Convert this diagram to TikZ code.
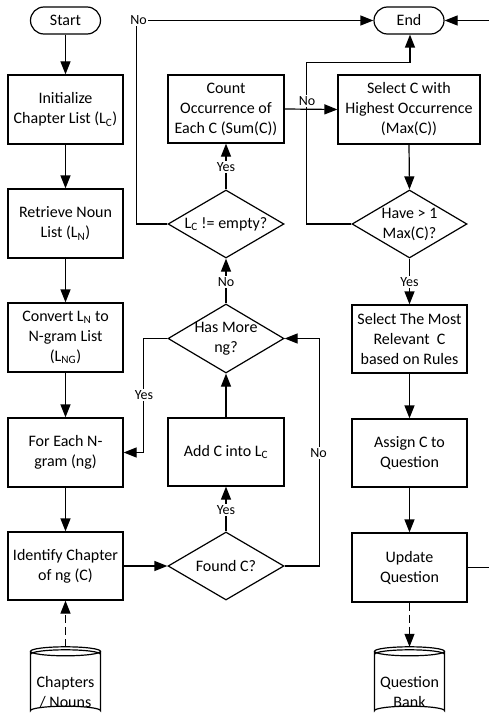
\documentclass[tikz,border=0pt]{standalone}
\usepackage{fontspec}
\setmainfont{Carlito}
\usetikzlibrary{arrows.meta,shapes.geometric,calc}

% database symbol: top ellipse with a second rim line, straight sides, rounded base
\newcommand\dbsymbol[1]{%
  \draw[line width=1.2pt] ($(#1.north)+(0,4.5)$) ellipse[x radius=35pt, y radius=4.5pt];
  \draw[line width=1.2pt] ($(#1.north)+(-35,7.5)$) arc[start angle=180, end angle=0, x radius=35pt, y radius=4.5pt];
  \draw[line width=1.2pt] ($(#1.north)+(-35,4.5)$) -- ($(#1.south)+(-35,-4.5)$)
    arc[start angle=180, end angle=0, x radius=35pt, y radius=4.5pt] -- ($(#1.north)+(35,4.5)$);
}

\begin{document}
\begin{tikzpicture}[x=1pt,y=-1pt,
  every node/.style={font=\fontsize{16}{20}\selectfont, align=center, inner sep=0pt},
  line/.style={line width=1.2pt, draw=black},
  flow/.style={line, -{Triangle[length=13pt,width=10pt]}},
  dflow/.style={flow, dash pattern=on 8pt off 4pt},
  box/.style={draw, line width=1.2pt, minimum width=115pt, minimum height=69pt},
  term/.style={draw, line width=1.2pt, rounded corners=13.5pt, minimum width=70pt, minimum height=27pt},
  dia/.style={draw, line width=1.2pt, diamond, minimum width=116pt, minimum height=69pt},
  store/.style={minimum width=70pt, minimum height=68pt},
  tag/.style={font=\fontsize{14}{16}\selectfont, fill=white, inner sep=1pt},
]
\useasboundingbox (0,0) rectangle (489,717);
\clip (0,0) rectangle (489,717);

% ---- left column ----
\node[term] (start) at (65.5,20.5) {Start};
\node[box] (init) at (65.5,109.5) {Initialize\\Chapter List (L\textsubscript{C})};
\node[box] (noun) at (65.5,223.5) {Retrieve Noun\\List (L\textsubscript{N})};
\node[box] (conv) at (65.5,337.5) {Convert L\textsubscript{N} to\\N-gram List\\(L\textsubscript{NG})};
\node[box] (each) at (65.5,452.5) {For Each N-\\gram (ng)};
\node[box, minimum height=68pt] (ident) at (65.5,566) {Identify Chapter\\of ng (C)};
\node[store] (chap) at (65.5,681) {};
\dbsymbol{chap}
\node (chapt) at (65.5,692) {Chapters\\/ Nouns};

% ---- middle column ----
\node[box, minimum width=116pt, minimum height=68pt] (count) at (226,109) {Count\\Occurrence of\\Each C (Sum(C))};
\node[dia, minimum height=68pt] (empty) at (226,224) {};
\node (emptyt) at (226,224) {L\textsubscript{C} != empty?};
\node[dia] (more) at (226,338.5) {};
\node (moret) at (226,338.5) {Has More\\ng?};
\node[box, minimum width=116pt, minimum height=68pt] (add) at (226,452) {Add C into L\textsubscript{C}};
\node[dia, minimum height=68pt] (found) at (226,566) {};
\node (foundt) at (226,566) {Found C?};

% ---- right column ----
\node[term] (end) at (409,20.5) {End};
\node[box, minimum width=142pt] (sel) at (409,109.5) {Select C with\\Highest Occurrence\\(Max(C))};
\node[dia, minimum width=115pt, minimum height=68pt] (multi) at (409.5,224) {};
\node (multit) at (409.5,224) {Have {>} 1\\Max(C)?};
\node[box, minimum height=68pt] (rel) at (409.5,339) {Select The Most\\Relevant\ \ C\\based on Rules};
\node[box, minimum height=68pt] (assign) at (409.5,453) {Assign C to\\Question};
\node[box] (upd) at (409.5,567.5) {Update\\Question};
\node[store] (bank) at (409.5,681) {};
\dbsymbol{bank}
\node (bankt) at (409.5,692) {Question\\Bank};

% ---- connectors: left column ----
\draw[flow] (start) -- (init);
\draw[flow] (init) -- (noun);
\draw[flow] (noun) -- (conv);
\draw[flow] (conv) -- (each);
\draw[flow] (each) -- (ident);
\draw[dflow] (chap.north) -- (ident.south);
\draw[flow] (ident.east) -- (found.west);

% ---- connectors: middle column ----
\draw[flow] (found.north) -- (add.south);
\node[tag] (fyes) at (226,510) {Yes};
\draw[flow] (found.east) -- ++(35,0) |- (more.east);
\node[tag] (fno) at (318.5,453) {No};
\draw[flow] (add.north) -- (more.south);
\draw[flow] (more.west) -- ++(-24,0) |- (each.east);
\node[tag] (myes) at (144,395) {Yes};
\draw[flow] (more.north) -- (empty.south);
\node[tag] (mno) at (226,282) {No};
\draw[flow] (empty.north) -- (count.south);
\node[tag] (eyes) at (226,167) {Yes};
\draw[flow] (empty.west) -- ++(-31,0) |- (end.west);
\node[tag] (eno) at (138.5,20.5) {No};

% ---- connectors: right column ----
\draw[flow] (count.east) -- (sel.west);
\draw[flow] (multi.west) -- ++(-45,0) |- ($(end.south)+(1,28)$) -- ($(end.south)+(1,0)$);
\node[tag] (hno) at (307,101) {No};
\draw[flow] (sel.south) -- (multi.north);
\draw[flow] (multi.south) -- (rel.north);
\node[tag] (hyes) at (409.5,282) {Yes};
\draw[flow] (rel) -- (assign);
\draw[flow] (assign) -- (upd);
\draw[dflow] (upd.south) -- (bank.north);
\draw[flow] (upd.east) -- ++(40,0) |- (end.east);
\end{tikzpicture}
\end{document}
